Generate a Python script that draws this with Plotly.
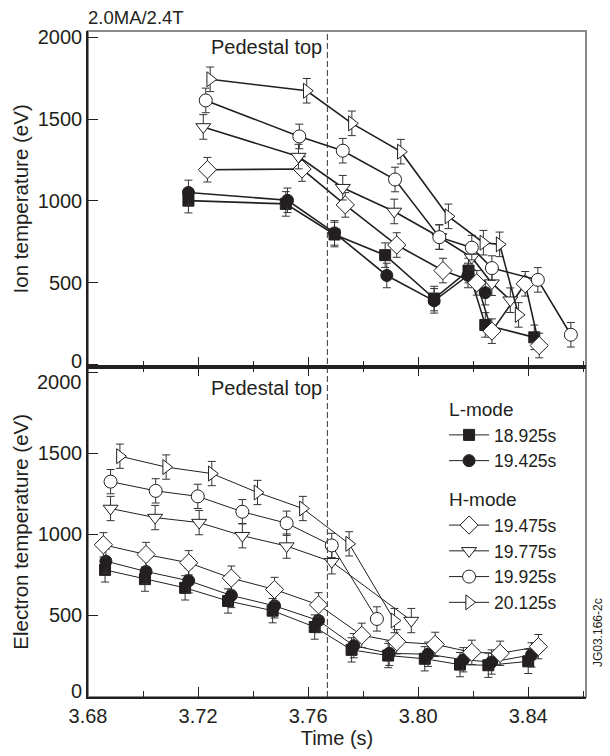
import plotly.graph_objects as go

# ---------------- data ----------------
SERIES = ["18.925s", "19.425s", "19.475s", "19.775s", "19.925s", "20.125s"]
GROUPS = ["L-mode", "L-mode", "H-mode", "H-mode", "H-mode", "H-mode"]

# Ion temperature (top panel)
ti_t_18925 = [3.7165, 3.7519, 3.7696, 3.7880, 3.8058, 3.8183, 3.8244, 3.8422]
ti_v_18925 = [1002, 982, 795, 669, 404, 575, 243, 167]
ti_t_19425 = [3.7165, 3.7525, 3.7696, 3.7886, 3.8058, 3.8181, 3.8244]
ti_v_19425 = [1052, 1004, 805, 545, 390, 545, 440]
ti_t_19475 = [3.7234, 3.7578, 3.7735, 3.7922, 3.8090, 3.8213, 3.8268, 3.8389, 3.8440]
ti_v_19475 = [1191, 1195, 976, 731, 575, 500, 205, 494, 117]
ti_t_19775 = [3.7219, 3.7565, 3.7726, 3.7913, 3.8077, 3.8195, 3.8268, 3.8335]
ti_v_19775 = [1452, 1271, 1081, 936, 780, 655, 498, 394]
ti_t_19925 = [3.7228, 3.7568, 3.7726, 3.7916, 3.8077, 3.8195, 3.8268, 3.8435, 3.8555]
ti_v_19925 = [1614, 1394, 1307, 1131, 779, 715, 590, 518, 183]
ti_t_20125 = [3.7244, 3.7595, 3.7759, 3.7937, 3.8110, 3.8237, 3.8296, 3.8365]
ti_v_20125 = [1743, 1673, 1474, 1301, 906, 745, 735, 304]

# Electron temperature (bottom panel)
te_t_18925 = [3.6862, 3.7007, 3.7153, 3.7309, 3.7471, 3.7624, 3.7758, 3.7891, 3.8024, 3.8152, 3.8255, 3.8400]
te_v_18925 = [780, 723, 669, 588, 528, 427, 286, 251, 231, 195, 191, 215]
te_t_19425 = [3.6865, 3.7011, 3.7166, 3.7321, 3.7478, 3.7638, 3.7766, 3.7895, 3.8036, 3.8164, 3.8267, 3.8412]
te_v_19425 = [834, 770, 713, 622, 558, 467, 312, 265, 259, 225, 211, 255]
te_t_19475 = [3.6856, 3.7011, 3.7166, 3.7321, 3.7478, 3.7638, 3.7795, 3.7922, 3.8062, 3.8195, 3.8298, 3.8437]
te_v_19475 = [935, 875, 824, 729, 659, 564, 376, 336, 320, 271, 265, 306]
te_t_19775 = [3.6882, 3.7044, 3.7204, 3.7361, 3.7522, 3.7686, 3.7975]
te_v_19775 = [1159, 1103, 1072, 991, 927, 830, 467]
te_t_19925 = [3.6882, 3.7046, 3.7199, 3.7361, 3.7522, 3.7686, 3.7850]
te_v_19925 = [1325, 1268, 1234, 1139, 1068, 931, 477]
te_t_20125 = [3.6916, 3.7084, 3.7250, 3.7416, 3.7581, 3.7749, 3.7914]
te_v_20125 = [1482, 1415, 1375, 1258, 1159, 941, 467]

ERR_TI = 75   # eV, error bar half-height
ERR_TE = 75

PEDESTAL_TOP_TIME = 3.767
X_TICKS = [3.68, 3.72, 3.76, 3.80, 3.84]
Y_TICKS = [0, 500, 1000, 1500, 2000]
Y_TICKS_TOP_TEXT = ["", "500", "1000", "1500", "2000"]      # "0" placed separately
Y_TICKS_BOTTOM_TEXT = ["", "500", "1000", "1500", ""]       # "0" and "2000" placed separately
# (axis, value, vertical nudge in px) for the crowded end labels at the panel seams
END_LABELS = [("y", 0, 4), ("y2", 2000, -10), ("y2", 0, 5)]

# ---------------- styling ----------------
FONT = "Liberation Sans, Arial, Helvetica, sans-serif"
INK = "#231f20"
STYLE = {
    "18.925s": dict(symbol="square", fill=INK, size=11),
    "19.425s": dict(symbol="circle", fill=INK, size=12),
    "19.475s": dict(symbol="diamond", fill="white", size=14),
    "19.775s": dict(symbol="triangle-down", fill="white", size=13),
    "19.925s": dict(symbol="circle", fill="white", size=13),
    "20.125s": dict(symbol="triangle-right", fill="white", size=13),
}

top_data = [(ti_t_18925, ti_v_18925), (ti_t_19425, ti_v_19425), (ti_t_19475, ti_v_19475),
            (ti_t_19775, ti_v_19775), (ti_t_19925, ti_v_19925), (ti_t_20125, ti_v_20125)]
bot_data = [(te_t_18925, te_v_18925), (te_t_19425, te_v_19425), (te_t_19475, te_v_19475),
            (te_t_19775, te_v_19775), (te_t_19925, te_v_19925), (te_t_20125, te_v_20125)]

fig = go.Figure()

def add_series(data, xa, ya, lw, err, legend):
    seen = set()
    for name, grp, (t, v) in zip(SERIES, GROUPS, data):
        st = STYLE[name]
        kw = {}
        if legend and grp not in seen:
            kw["legendgrouptitle"] = dict(text=grp, font=dict(size=19, family=FONT, color=INK))
            seen.add(grp)
        fig.add_trace(go.Scatter(
            x=t, y=v, name=name, xaxis=xa, yaxis=ya, mode="lines+markers",
            legendgroup=grp, showlegend=legend,
            line=dict(color=INK, width=lw),
            marker=dict(symbol=st["symbol"], size=st["size"], color=st["fill"],
                        line=dict(color=INK, width=1)),
            error_y=dict(type="constant", value=err, color="#333333", thickness=1, width=4),
            **kw))

add_series(top_data, "x", "y", 1.6, ERR_TI, False)
add_series(bot_data, "x2", "y2", 1.0, ERR_TE, True)

XR = [3.68, 3.861]
SPLIT = 0.496
common_x = dict(range=XR, tickvals=X_TICKS, ticks="inside", ticklen=10, tickwidth=1,
                tickcolor=INK, showline=True, linecolor=INK, linewidth=1.5,
                showgrid=False, zeroline=False,
                minor=dict(dtick=0.02, tick0=3.68, ticks="inside", ticklen=6,
                           tickcolor=INK, tickwidth=1, showgrid=False))
common_y = dict(tickvals=Y_TICKS, ticks="inside", ticklen=10, tickwidth=1, tickcolor=INK,
                showline=True, linecolor=INK, linewidth=1.5, showgrid=False, zeroline=False,
                tickfont=dict(size=20, family=FONT, color=INK))

fig.update_layout(
    width=610, height=756,
    margin=dict(l=88, r=24, t=31, b=51),
    paper_bgcolor="white", plot_bgcolor="white",
    font=dict(family=FONT, color=INK, size=20),
    xaxis=dict(common_x, anchor="y", domain=[0, 1], showticklabels=False),
    yaxis=dict(common_y, anchor="x", domain=[SPLIT, 1], range=[-12, 2038],
               ticktext=Y_TICKS_TOP_TEXT,
               title=dict(text="Ion temperature (eV)", font=dict(size=20.5), standoff=4)),
    xaxis2=dict(common_x, anchor="y2", domain=[0, 1], mirror="ticks",
                tickformat=".2f", tickfont=dict(size=20, family=FONT, color=INK),
                title=dict(text="Time (s)", font=dict(size=20), standoff=3)),
    yaxis2=dict(common_y, anchor="x2", domain=[0, SPLIT], range=[-5, 2035],
                ticktext=Y_TICKS_BOTTOM_TEXT,
                title=dict(text="Electron temperature (eV)", font=dict(size=20.5), standoff=4)),
    legend=dict(x=0.715, y=0.462, xanchor="left", yanchor="top",
                bgcolor="rgba(0,0,0,0)", borderwidth=0,
                font=dict(size=17.5, family=FONT, color=INK),
                traceorder="grouped", tracegroupgap=11, itemwidth=40),
    showlegend=True,
)

# frame (grey top/right), dashed pedestal line
fig.add_shape(type="rect", xref="paper", yref="paper", x0=0, x1=1, y0=0, y1=1,
              line=dict(color="#8a8a8a", width=2), layer="below")
fig.add_shape(type="line", xref="x", yref="paper", x0=PEDESTAL_TOP_TIME, x1=PEDESTAL_TOP_TIME,
              y0=0, y1=1, line=dict(color="#333333", width=1, dash="6px,3px"))

for ypos in [0.976, 0.464]:
    fig.add_annotation(text="Pedestal top", xref="x", yref="paper", x=PEDESTAL_TOP_TIME,
                       y=ypos, xanchor="right", yanchor="middle", xshift=-3, showarrow=False,
                       font=dict(size=20, family=FONT, color=INK))

# crowded end tick labels at the seams, nudged apart as in the reference
for axref, val, dy in END_LABELS:
    fig.add_annotation(text=str(val), xref="paper", yref=axref, x=0, y=val,
                       xanchor="right", yanchor="middle", xshift=-5, yshift=dy,
                       showarrow=False, borderpad=0,
                       font=dict(size=20, family=FONT, color=INK))

fig.add_annotation(text="2.0MA/2.4T", xref="paper", yref="paper", x=0, y=1, xanchor="left",
                   yanchor="bottom", xshift=-2, yshift=1, showarrow=False,
                   font=dict(size=18.5, family=FONT, color=INK))
fig.add_annotation(text="JG03.166-2c", xref="paper", yref="paper", x=1, y=0.096, xanchor="left",
                   yanchor="middle", xshift=3, textangle=-90, showarrow=False,
                   font=dict(size=12, family=FONT, color=INK))

fig.write_html("out.html")
